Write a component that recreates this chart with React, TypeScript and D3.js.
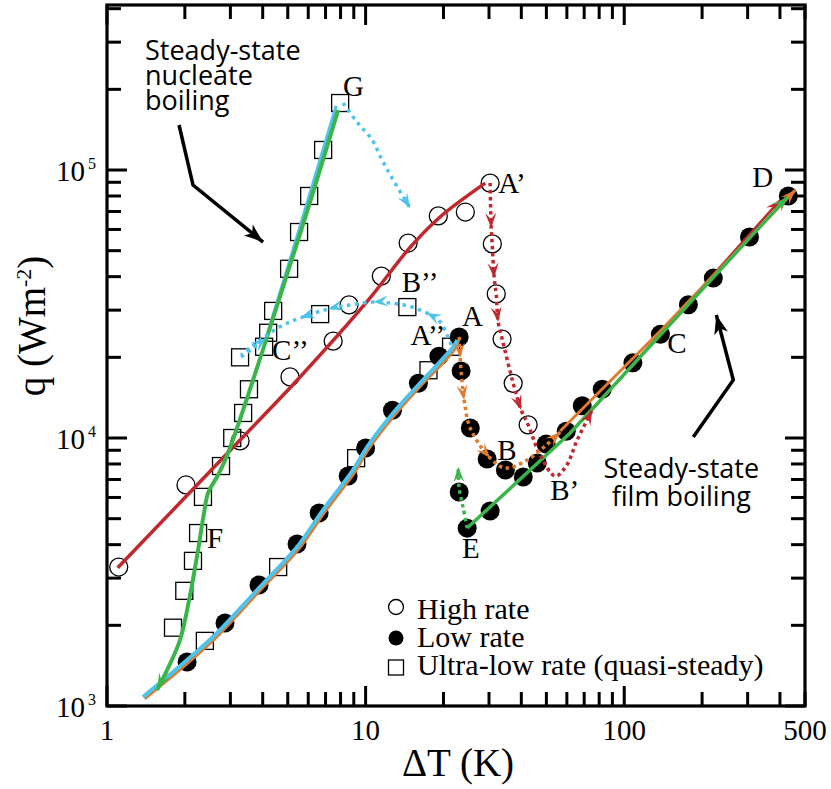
import React from 'react';
import * as d3 from 'd3';

// ΔT (K) and q (W m^-2)
const highRateDT = [1.11, 2.02, 3.27, 5.10, 7.49, 8.63, 11.5, 14.6, 19.1, 24.3, 30.3, 30.9, 32.0, 33.7, 37.2, 42.5];
const highRateQ = [3300, 6680, 9750, 16900, 23000, 31400, 40200, 53400, 67400, 69700, 89400, 53000, 34500, 23400, 16000, 11200];

const lowRateDT = [2.04, 2.86, 3.87, 5.43, 6.61, 8.56, 10.0, 12.7, 16.0, 19.2, 23.0, 23.4, 25.4, 29.5, 34.7, 40.7, 46.1, 49.9, 59.7, 68.8, 82.2, 108, 138, 177, 221, 305, 431, 23.0, 30.3, 24.7];
const lowRateQ = [1460, 2040, 2830, 4020, 5250, 7210, 9180, 12700, 16000, 20200, 23800, 17800, 10900, 8350, 7600, 7150, 8070, 9500, 10600, 13200, 15200, 19100, 24400, 31400, 39500, 56200, 80000, 6290, 5340, 4610];

const ultraLowDT = [1.80, 1.99, 2.15, 2.25, 2.35, 2.76, 3.05, 3.36, 3.54, 4.05, 4.20, 4.39, 5.06, 5.53, 6.05, 6.85, 7.97, 3.27, 6.67, 14.5, 17.5, 21.4, 9.19, 4.59, 2.39];
const ultraLowQ = [1960, 2690, 3480, 4420, 6030, 7860, 10000, 12400, 15200, 21900, 24700, 29800, 42800, 58700, 80000, 118800, 177800, 20000, 29000, 30800, 17900, 21900, 8410, 3300, 1750];

// solid fits
const highFitDT = [1.10, 3.27, 5.58, 10.1, 14.9, 19.4, 29.0];
const highFitQ = [3280, 9830, 16890, 32180, 51600, 66800, 89300];
const lowFitDT = [1.40, 2.08, 2.71, 3.87, 5.53, 6.97, 9.11, 10.3, 13.0, 16.5, 22.2, 23.0];
const lowFitQ = [1062, 1459, 1840, 2663, 3853, 5296, 7467, 9100, 12180, 15770, 21480, 23410];
const ultraFitDT = [1.378, 2.04, 2.665, 3.805, 5.43, 6.85, 8.945, 10.13, 12.78, 16.25, 21.8, 22.6];
const ultraFitQ = [1080, 1484, 1873, 2709, 3921, 5387, 7597, 9256, 12400, 16040, 21860, 23210];
const ultraUpDT = [4.12, 5.38, 7.69];
const ultraUpQ = [23600, 54800, 173300];
const greenNucDT = [7.83, 5.48, 2.938, 2.688, 2.459, 2.372, 2.249, 2.095, 1.916, 1.722, 1.561];
const greenNucQ = [167400, 54800, 8790, 7278, 6235, 5250, 3820, 2596, 1763, 1386, 1147];
const greenFilmDT = [24.7, 61.8, 427];
const greenFilmQ = [4613, 10440, 79300];
const orangeFilmDT = [56.55, 137.8, 458.6];
const orangeFilmQ = [10620, 25080, 84150];
const redFilmDT = [73.9, 401];
const redFilmQ = [12500, 77300];

// dotted transition paths (arrows at listed vertex indices)
const redDotDT = [30.3, 30.59, 30.86, 31.42, 31.98, 32.55, 33.73, 37.2, 39.95, 42.53, 47.3, 54.1, 59.65, 65.8, 75.2];
const redDotQ = [89430, 60770, 52970, 39540, 34450, 27090, 23410, 16030, 12720, 11180, 8643, 7210, 7862, 9830, 12720];
const redDotArrows = [1, 3, 5, 8];
const orangeDotDT = [23.0, 23.2, 23.41, 24.05, 25.37, 30.3, 34.65, 42.15, 49.5, 56.55];
const orangeDotQ = [23830, 19890, 17780, 13860, 10900, 8422, 7727, 8280, 9335, 10530];
const orangeDotArrows = [1, 3, 5];
const greenDotDT = [24.7, 23.84, 23.0, 22.8];
const greenDotQ = [4613, 5482, 6508, 7796];
const blueDropDT = [8.18, 9.27, 10.6, 11.58, 12.66, 14.86];
const blueDropQ = [177800, 151000, 129400, 109000, 93300, 72100];
const blueBackDT = [21.42, 19.42, 17.2, 14.6, 12.0, 10.69, 8.71, 7.16, 5.58, 4.80, 4.16, 3.64, 3.30];
const blueBackQ = [22230, 27090, 29300, 31100, 32000, 32180, 31360, 30290, 28040, 26400, 24230, 22040, 20400];
const blueBackArrows = [2, 5, 7, 8];
const blueHookDT = [3.30, 3.64, 4.12];
const blueHookQ = [20050, 21480, 23600];

// black annotation arrows
const nucArrowDT = [1.899, 2.151, 4.013];
const nucArrowQ = [147200, 87900, 53860];
const filmArrowDT = [184.9, 264.1, 227];
const filmArrowQ = [10090, 16460, 28770];

const pointLabels = ['G', 'A\u2019', 'B\u2019\u2019', 'A', 'A\u2019\u2019', 'C\u2019\u2019', 'F', 'B', 'B\u2019', 'E', 'C', 'D'];
const pointLabelDT = [8.18, 32.6, 13.8, 23.6, 14.9, 4.35, 2.437, 32.3, 51.7, 23.6, 146.7, 312.7];
const pointLabelQ = [188900, 82000, 35060, 26180, 22230, 19540, 3888, 8280, 5872, 3565, 20750, 86430];

const xTickLabels = [1, 10, 100, 500];
const yTickExp = [3, 4, 5];
const legendItems = ['High rate', 'Low rate', 'Ultra-low rate (quasi-steady)'];
const nucleateLines = ['Steady-state', 'nucleate', 'boiling'];
const filmLines = ['Steady-state', 'film boiling'];

const RED = '#C1272D';
const BLUE = '#4EC3EC';
const GREEN = '#3AB54A';
const ORANGE = '#E27A2B';
const SERIF = '"Liberation Serif", "Times New Roman", serif';
const SANS = '"Open Sans", "Noto Sans", sans-serif';

const zip = (a: number[], b: number[]) => a.map((v, i) => [v, b[i]] as [number, number]);

function arrowHead(px: number, py: number, ang: number, L = 15, W = 5.5, notch = 9) {
  const c = Math.cos(ang), s = Math.sin(ang);
  const pt = (u: number, v: number) => `${px + u * c - v * s},${py + u * s + v * c}`;
  return `M${pt(0, 0)}L${pt(-L, W)}L${pt(-notch, 0)}L${pt(-L, -W)}Z`;
}

export default function App() {
  const x = d3.scaleLog().domain([1, 500]).range([107, 805]);
  const y = d3.scaleLog().domain([1000, 412800]).range([706, 5]);
  const line = d3.line<[number, number]>().x(d => x(d[0])).y(d => y(d[1])).curve(d3.curveCatmullRom.alpha(0.5));
  const straight = d3.line<[number, number]>().x(d => x(d[0])).y(d => y(d[1]));

  const px = (d: [number, number]) => [x(d[0]), y(d[1])];
  const endArrow = (pts: [number, number][], color: string, L?: number, W?: number, n?: number) => {
    const a = px(pts[pts.length - 2]), b = px(pts[pts.length - 1]);
    return <path d={arrowHead(b[0], b[1], Math.atan2(b[1] - a[1], b[0] - a[0]), L, W, n)} fill={color} />;
  };
  const midArrows = (pts: [number, number][], idx: number[], color: string) =>
    idx.map(i => {
      const a = px(pts[i - 1]), b = px(pts[i]), c = px(pts[i + 1]);
      return <path key={i} d={arrowHead(b[0], b[1], Math.atan2(c[1] - a[1], c[0] - a[0]))} fill={color} />;
    });

  const xTicks: number[] = [];
  for (const dec of [1, 10, 100]) for (let k = 1; k <= 9; k++) if (dec * k <= 500) xTicks.push(dec * k);
  const yTicks: number[] = [];
  for (const dec of [1000, 10000, 100000]) for (let k = 1; k <= 9; k++) if (dec * k <= 412800) yTicks.push(dec * k);
  const isMajor = (v: number) => Math.abs(Math.log10(v) - Math.round(Math.log10(v))) < 1e-9;

  const dotted = { fill: 'none', strokeWidth: 3.5, strokeDasharray: '3.5 3.5' };

  const redDot = zip(redDotDT, redDotQ);
  const orangeDot = zip(orangeDotDT, orangeDotQ);
  const greenDot = zip(greenDotDT, greenDotQ);
  const blueDrop = zip(blueDropDT, blueDropQ);
  const blueBack = zip(blueBackDT, blueBackQ);
  const blueHook = zip(blueHookDT, blueHookQ);
  const greenNuc = zip(greenNucDT, greenNucQ);
  const greenFilm = zip(greenFilmDT, greenFilmQ);
  const orangeFilm = zip(orangeFilmDT, orangeFilmQ);
  const redFilm = zip(redFilmDT, redFilmQ);
  const nucArrow = zip(nucArrowDT, nucArrowQ);
  const filmArrow = zip(filmArrowDT, filmArrowQ);

  return (
    <div style={{ position: 'absolute', left: 0, top: 0 }}>
      <svg width={831} height={789} style={{ display: 'block', background: '#fff' }}>
        {/* ticks */}
        <g stroke="#000" strokeWidth={3}>
          {xTicks.map(v => {
            const len = isMajor(v) ? 20 : 14;
            return (
              <g key={'x' + v}>
                <line x1={x(v)} x2={x(v)} y1={706} y2={706 - len} />
                <line x1={x(v)} x2={x(v)} y1={5} y2={5 + len} />
              </g>
            );
          })}
          {yTicks.map(v => {
            const len = isMajor(v) ? 20 : 14;
            return (
              <g key={'y' + v}>
                <line x1={107} x2={107 + len} y1={y(v)} y2={y(v)} />
                <line x1={805} x2={805 - len} y1={y(v)} y2={y(v)} />
              </g>
            );
          })}
        </g>
        <rect x={107} y={5} width={698} height={701} fill="none" stroke="#000" strokeWidth={3.2} />

        {/* tick labels */}
        <g fontFamily={SERIF} fontSize={29} fill="#000">
          {xTickLabels.map(v => (
            <text key={v} x={x(v)} y={740} textAnchor="middle">{v}</text>
          ))}
          {yTickExp.map(e => (
            <text key={e} x={56} y={y(Math.pow(10, e)) + 11}>
              10<tspan dx={3} dy={-12} fontSize={16}>{e}</tspan>
            </text>
          ))}
        </g>
        <text x={458} y={776} textAnchor="middle" fontFamily={SERIF} fontSize={39}>ΔT (K)</text>
        <text transform="translate(45,326) rotate(-90)" textAnchor="middle" fontFamily={SERIF} fontSize={39}>
          q (Wm<tspan dy={-14} fontSize={22}>-2</tspan><tspan dy={14}>)</tspan>
        </text>

        {/* markers */}
        <g fill="none" stroke="#000" strokeWidth={1.3}>
          {ultraLowDT.map((v, i) => (
            <rect key={'s' + i} x={x(v) - 8.5} y={y(ultraLowQ[i]) - 8.5} width={17} height={17} />
          ))}
          {highRateDT.map((v, i) => (
            <circle key={'o' + i} cx={x(v)} cy={y(highRateQ[i])} r={9} />
          ))}
        </g>
        <g fill="#000">
          {lowRateDT.map((v, i) => (
            <circle key={'f' + i} cx={x(v)} cy={y(lowRateQ[i])} r={9.5} />
          ))}
        </g>

        {/* solid curves */}
        <path d={line(zip(highFitDT, highFitQ)) || ''} fill="none" stroke={RED} strokeWidth={3.5} />
        <path d={straight(redFilm) || ''} fill="none" stroke={RED} strokeWidth={2.5} />
        {endArrow(redFilm, RED)}
        <path d={line(zip(lowFitDT, lowFitQ)) || ''} fill="none" stroke={ORANGE} strokeWidth={2.5} />
        <path d={line(zip(ultraFitDT, ultraFitQ)) || ''} fill="none" stroke={BLUE} strokeWidth={4} />
        <path d={straight(zip(ultraUpDT, ultraUpQ)) || ''} fill="none" stroke={BLUE} strokeWidth={3} />
        <path d={straight(orangeFilm) || ''} fill="none" stroke={ORANGE} strokeWidth={3} />
        {endArrow(orangeFilm, ORANGE)}
        <path d={line(greenNuc) || ''} fill="none" stroke={GREEN} strokeWidth={4} />
        {endArrow(greenNuc, GREEN, 17, 6, 10)}
        <path d={straight(greenFilm) || ''} fill="none" stroke={GREEN} strokeWidth={3.5} />
        {endArrow(greenFilm, GREEN)}

        {/* dotted transitions */}
        <path d={line(redDot) || ''} stroke={RED} {...dotted} />
        {midArrows(redDot, redDotArrows, RED)}
        {endArrow(redDot, RED)}
        <path d={line(orangeDot) || ''} stroke={ORANGE} {...dotted} />
        {midArrows(orangeDot, orangeDotArrows, ORANGE)}
        {endArrow(orangeDot, ORANGE)}
        <path d={line(greenDot) || ''} stroke={GREEN} {...dotted} />
        {endArrow(greenDot, GREEN)}
        <path d={line(blueDrop) || ''} stroke={BLUE} {...dotted} strokeDasharray="3.5 4.5" />
        {endArrow(blueDrop, BLUE)}
        <path d={line(blueBack) || ''} stroke={BLUE} {...dotted} strokeDasharray="3.5 4.5" />
        {midArrows(blueBack, blueBackArrows, BLUE)}
        <path d={line(blueHook) || ''} stroke={BLUE} {...dotted} strokeDasharray="3.5 4.5" />
        {endArrow(blueHook, BLUE)}

        {/* annotation arrows */}
        <path d={straight(nucArrow) || ''} fill="none" stroke="#000" strokeWidth={3.5} />
        {endArrow(nucArrow, '#000', 19, 7, 14)}
        <path d={straight(filmArrow) || ''} fill="none" stroke="#000" strokeWidth={3.5} />
        {endArrow(filmArrow, '#000', 19, 7, 14)}

        <text x={x(1.403)} y={y(257300)} fontFamily={SANS} fontSize={27}>
          {nucleateLines.map((t, i) => (
            <tspan key={t} x={x(1.403)} dy={i === 0 ? 0 : 25}>{t}</tspan>
          ))}
        </text>
        <text x={x(166.2)} y={y(7092)} fontFamily={SANS} fontSize={27} textAnchor="middle">
          {filmLines.map((t, i) => (
            <tspan key={t} x={x(166.2)} dy={i === 0 ? 0 : 28}>{t}</tspan>
          ))}
        </text>

        {/* point labels */}
        <g fontFamily={SERIF} fontSize={29}>
          {pointLabels.map((t, i) => (
            <text key={t} x={x(pointLabelDT[i])} y={y(pointLabelQ[i])}>{t}</text>
          ))}
        </g>

        {/* legend */}
        <g fontFamily={SERIF} fontSize={30}>
          <circle cx={396} cy={607} r={7.5} fill="none" stroke="#000" strokeWidth={1.3} />
          <circle cx={396} cy={638} r={7.5} fill="#000" />
          <rect x={388.5} y={660} width={15} height={15} fill="none" stroke="#000" strokeWidth={1.3} />
          {legendItems.map((t, i) => (
            <text key={t} x={417} y={619 + i * 28}>{t}</text>
          ))}
        </g>
      </svg>
    </div>
  );
}
